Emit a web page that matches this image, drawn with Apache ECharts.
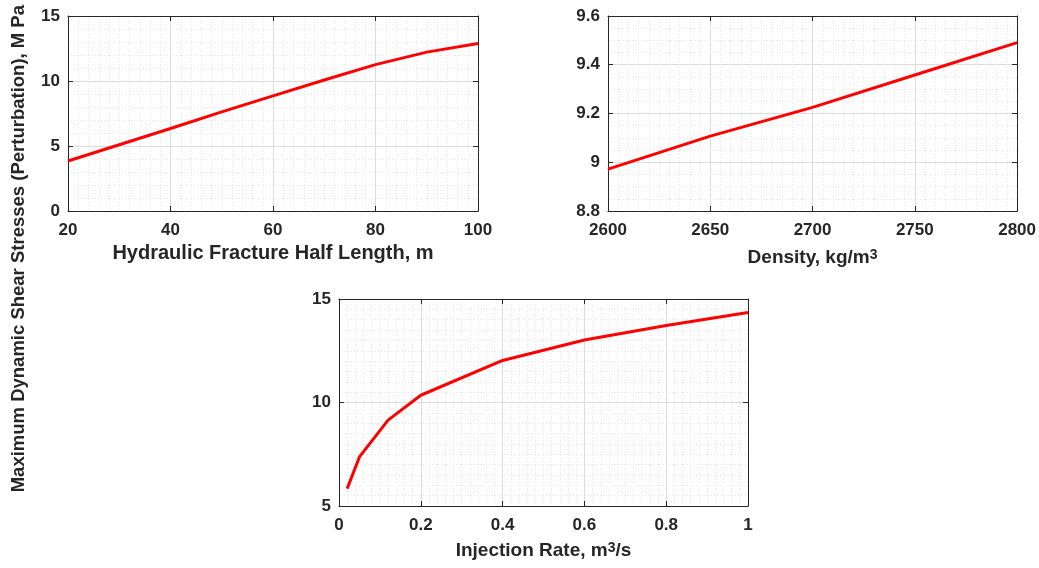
<!DOCTYPE html>
<html>
<head>
<meta charset="utf-8">
<script src="https://cdn.jsdelivr.net/npm/echarts@6/dist/echarts.min.js"></script>
<style>html,body{margin:0;padding:0;background:#fff;}#c{width:1039px;height:568px;}</style>
</head>
<body>
<div id="c"></div>
<script>
// Data
var lengthX = [20, 30, 40, 50, 60, 70, 80, 90, 100];
var lengthY = [3.85, 5.1, 6.35, 7.62, 8.86, 10.08, 11.26, 12.22, 12.88];
var densityX = [2600, 2650, 2700, 2750, 2800];
var densityY = [8.972, 9.107, 9.225, 9.358, 9.491];
var rateX = [0.02, 0.05, 0.12, 0.2, 0.4, 0.6, 0.8, 1.0];
var rateY = [5.84, 7.37, 9.15, 10.35, 12.03, 13.02, 13.72, 14.35];
var yTitle = 'Maximum Dynamic Shear Stresses (Perturbation), M Pa';
var xTitles = ['Hydraulic Fracture Half Length, m', 'Density, kg/m{sup|3}', 'Injection Rate, m{sup|3}/s'];

var FONT = '"Liberation Sans", Arial, sans-serif';
var TXT = '#262626';
var chart = echarts.init(document.getElementById('c'), null, {renderer: 'canvas'});

function fmt(v) { return String(+(+v).toFixed(3)); }

function mainAxis(pos, gi, min, max, interval, minorN, name, nameGap, nameSize) {
  return {
    type: 'value', gridIndex: gi, position: pos, min: min, max: max, interval: interval,
    name: name || '', nameLocation: 'middle', nameGap: nameGap || 0,
    nameTextStyle: {
      fontFamily: FONT, fontWeight: 'bold', fontSize: nameSize || 19, color: TXT,
      rich: {sup: {fontFamily: FONT, fontWeight: 'bold', fontSize: 14, color: TXT, verticalAlign: 'top', lineHeight: 12}}
    },
    axisLine: {show: true, onZero: false, lineStyle: {color: TXT, width: 1}},
    axisTick: {show: true, inside: true, length: 5, lineStyle: {color: TXT}},
    minorTick: {show: false, splitNumber: minorN},
    axisLabel: {show: true, formatter: fmt, fontFamily: FONT, fontWeight: 'bold', fontSize: 17, color: TXT, margin: (pos === 'bottom' ? 11 : 8)},
    splitLine: {show: true, lineStyle: {color: '#dcdcdc', width: 1}},
    minorSplitLine: {show: true, lineStyle: {color: '#e8e8e8', width: 1, type: [1, 2]}}
  };
}
function boxAxis(pos, gi, min, max, interval) {
  return {
    type: 'value', gridIndex: gi, position: pos, min: min, max: max, interval: interval,
    axisLine: {show: true, onZero: false, lineStyle: {color: TXT, width: 1}},
    axisTick: {show: true, inside: true, length: 5, lineStyle: {color: TXT}},
    axisLabel: {show: false}, splitLine: {show: false}
  };
}

var option = {
  animation: false,
  backgroundColor: '#ffffff',
  grid: [
    {left: 68, top: 16, width: 410, height: 195},
    {left: 608, top: 16, width: 410, height: 195},
    {left: 339, top: 299, width: 409, height: 207}
  ],
  xAxis: [
    mainAxis('bottom', 0, 20, 100, 20, 10, xTitles[0], 32, 20),
    boxAxis('top', 0, 20, 100, 20),
    mainAxis('bottom', 1, 2600, 2800, 50, 10, xTitles[1], 37),
    boxAxis('top', 1, 2600, 2800, 50),
    mainAxis('bottom', 2, 0, 1, 0.2, 10, xTitles[2], 35),
    boxAxis('top', 2, 0, 1, 0.2)
  ],
  yAxis: [
    mainAxis('left', 0, 0, 15, 5, 5),
    boxAxis('right', 0, 0, 15, 5),
    mainAxis('left', 1, 8.8, 9.6, 0.2, 4),
    boxAxis('right', 1, 8.8, 9.6, 0.2),
    mainAxis('left', 2, 5, 15, 5, 10),
    boxAxis('right', 2, 5, 15, 5)
  ],
  graphic: [{
    type: 'text', left: 9, top: 5,
    rotation: Math.PI / 2,
    style: {text: yTitle, fontFamily: FONT, fontWeight: 'bold', fontSize: 18.5, fill: TXT}
  }],
  series: [
    {type: 'line', xAxisIndex: 0, yAxisIndex: 0, data: lengthX.map(function (x, i) { return [x, lengthY[i]]; })},
    {type: 'line', xAxisIndex: 2, yAxisIndex: 2, data: densityX.map(function (x, i) { return [x, densityY[i]]; })},
    {type: 'line', xAxisIndex: 4, yAxisIndex: 4, data: rateX.map(function (x, i) { return [x, rateY[i]]; })}
  ].map(function (s) {
    s.showSymbol = false; s.symbol = 'none'; s.clip = true;
    s.lineStyle = {color: '#ff0000', width: 3};
    s.itemStyle = {color: '#ff0000'};
    return s;
  })
};
chart.setOption(option);
</script>
</body>
</html>
